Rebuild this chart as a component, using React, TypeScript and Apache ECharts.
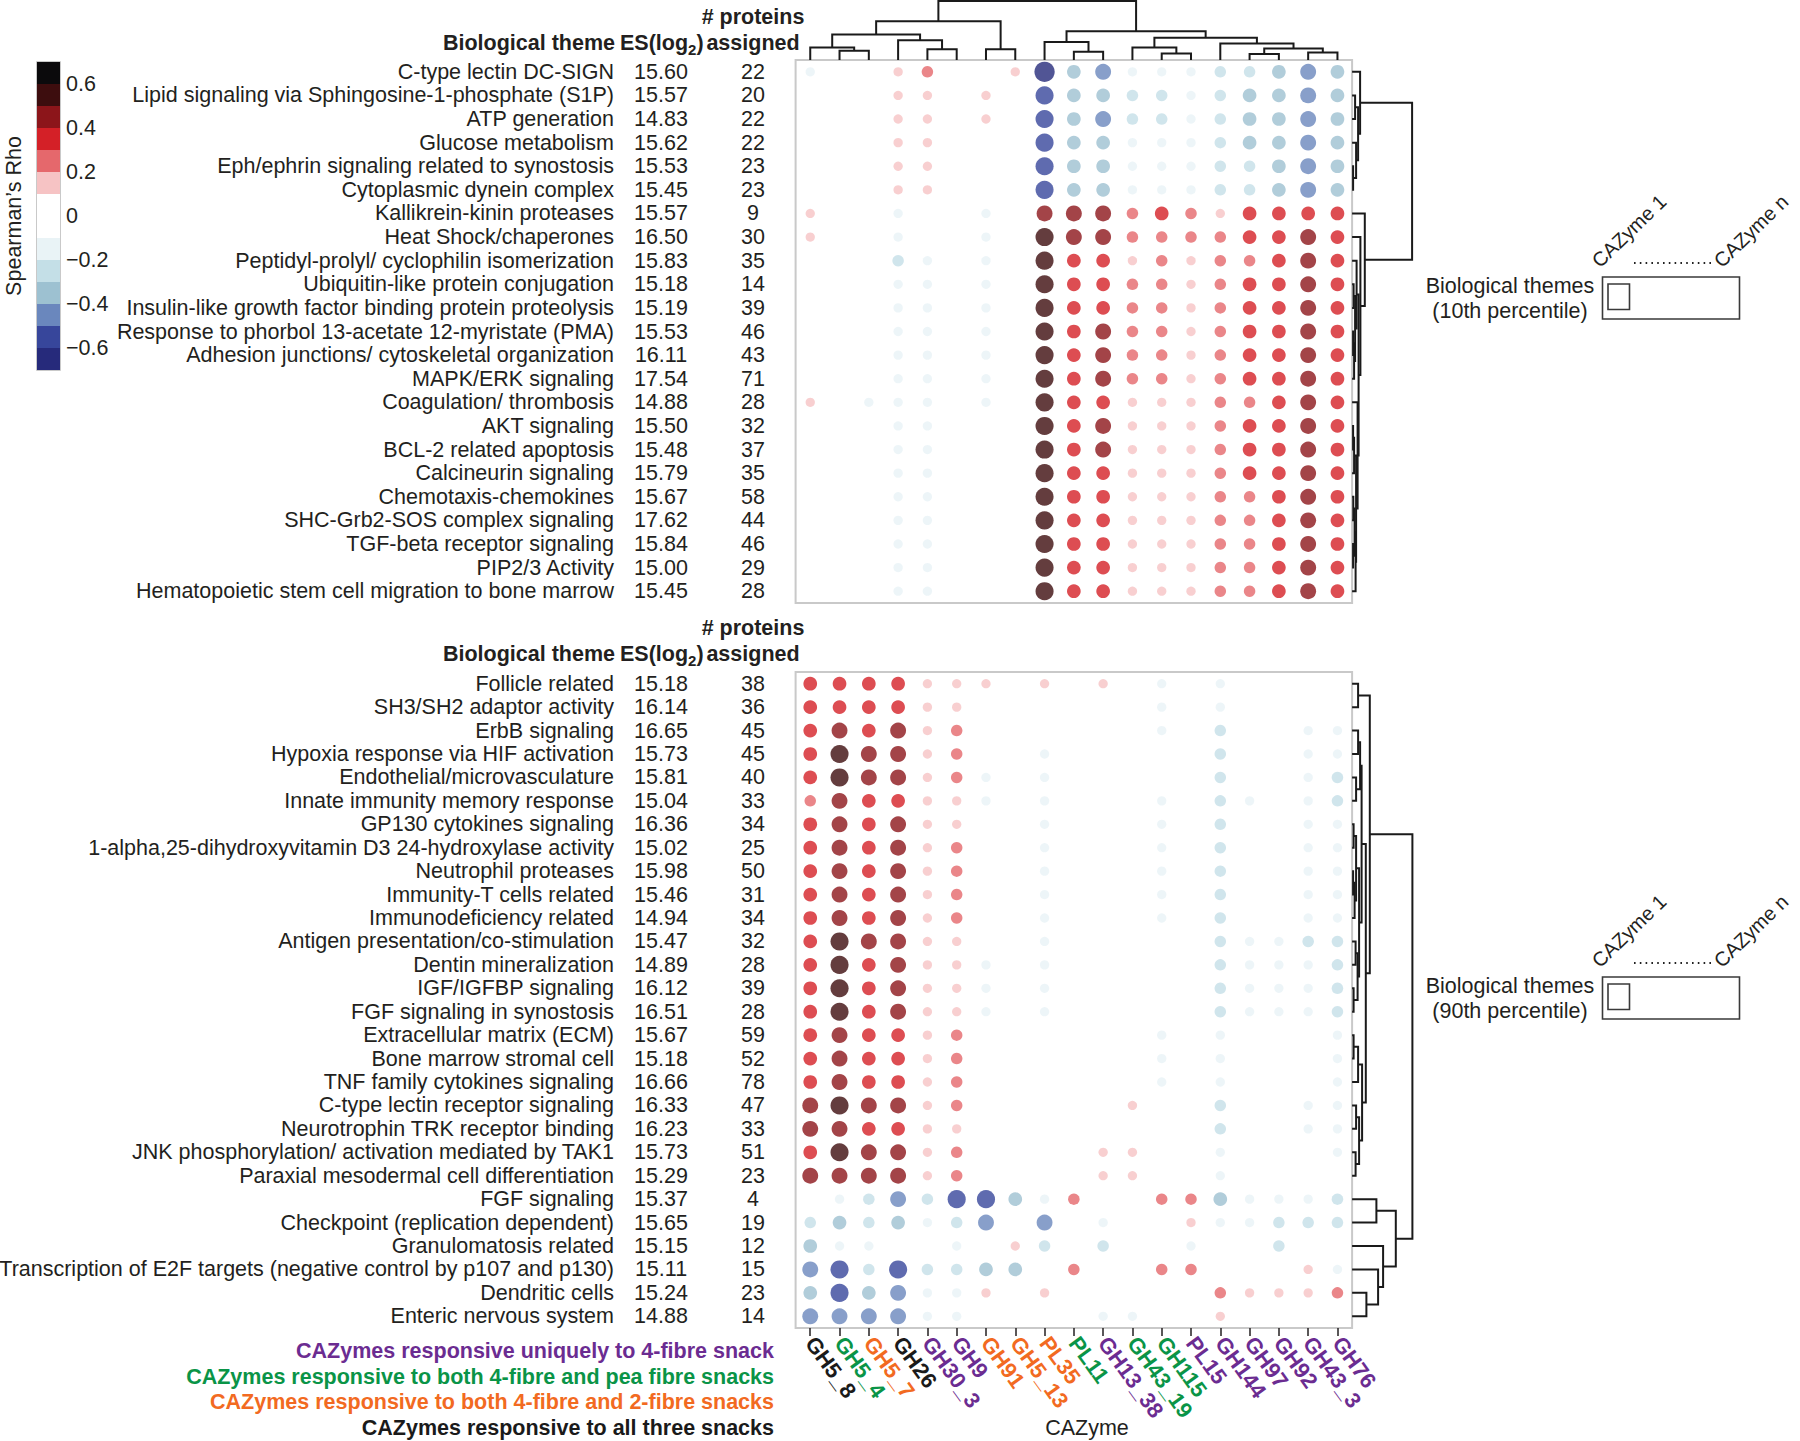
import React, { useEffect, useRef } from 'react';
import * as echarts from 'echarts';

// ---------------- data ----------------
const CAZYMES = ['GH5_8', 'GH5_4', 'GH5_7', 'GH26', 'GH30_3', 'GH9', 'GH91', 'GH5_13', 'PL35', 'PL11', 'GH13_38', 'GH43_19', 'GH115', 'PL15', 'GH144', 'GH97', 'GH92', 'GH43_3', 'GH76'];
const CAZYME_GROUP = ['all', 'pea', 'two', 'all', 'uniq', 'uniq', 'two', 'two', 'two', 'pea', 'uniq', 'pea', 'pea', 'uniq', 'uniq', 'uniq', 'uniq', 'uniq', 'uniq'];
const GROUP_COLORS: Record<string, string> = { uniq: '#6b2c91', pea: '#0a9447', two: '#f26a21', all: '#1a1a1a' };
const GROUP_LEGEND = [
  ['CAZymes responsive uniquely to 4-fibre snack', 'uniq'],
  ['CAZymes responsive to both 4-fibre and pea fibre snacks', 'pea'],
  ['CAZymes responsive to both 4-fibre and 2-fibre snacks', 'two'],
  ['CAZymes responsive to all three snacks', 'all'],
];

const TOP_THEMES = ['C-type lectin DC-SIGN', 'Lipid signaling via Sphingosine-1-phosphate (S1P)', 'ATP generation', 'Glucose metabolism', 'Eph/ephrin signaling related to synostosis', 'Cytoplasmic dynein complex', 'Kallikrein-kinin proteases', 'Heat Shock/chaperones', 'Peptidyl-prolyl/ cyclophilin isomerization', 'Ubiquitin-like protein conjugation', 'Insulin-like growth factor binding protein proteolysis', 'Response to phorbol 13-acetate 12-myristate (PMA)', 'Adhesion junctions/ cytoskeletal organization', 'MAPK/ERK signaling', 'Coagulation/ thrombosis', 'AKT signaling', 'BCL-2 related apoptosis', 'Calcineurin signaling', 'Chemotaxis-chemokines', 'SHC-Grb2-SOS complex signaling', 'TGF-beta receptor signaling', 'PIP2/3 Activity', 'Hematopoietic stem cell migration to bone marrow'];
const TOP_ES = ['15.60', '15.57', '14.83', '15.62', '15.53', '15.45', '15.57', '16.50', '15.83', '15.18', '15.19', '15.53', '16.11', '17.54', '14.88', '15.50', '15.48', '15.79', '15.67', '17.62', '15.84', '15.00', '15.45'];
const TOP_COUNT = ['22', '20', '22', '22', '23', '23', '9', '30', '35', '14', '39', '46', '43', '71', '28', '32', '37', '35', '58', '44', '46', '29', '28'];
const TOP_RHO = [
  [-0.15, 0, 0, 0.15, 0.25, 0, 0, 0.15, -0.65, -0.35, -0.45, -0.15, -0.15, -0.15, -0.25, -0.25, -0.35, -0.45, -0.35],
  [0, 0, 0, 0.15, 0.15, 0, 0.15, 0, -0.55, -0.35, -0.35, -0.25, -0.25, -0.15, -0.25, -0.35, -0.35, -0.45, -0.35],
  [0, 0, 0, 0.15, 0.15, 0, 0.15, 0, -0.55, -0.35, -0.45, -0.25, -0.25, -0.15, -0.25, -0.35, -0.35, -0.45, -0.35],
  [0, 0, 0, 0.15, 0.15, 0, 0, 0, -0.55, -0.35, -0.35, -0.15, -0.15, -0.15, -0.25, -0.35, -0.35, -0.45, -0.35],
  [0, 0, 0, 0.15, 0.15, 0, 0, 0, -0.55, -0.35, -0.35, -0.15, -0.15, -0.15, -0.25, -0.25, -0.35, -0.45, -0.35],
  [0, 0, 0, 0.15, 0.15, 0, 0, 0, -0.55, -0.35, -0.35, -0.15, -0.15, -0.15, -0.25, -0.25, -0.35, -0.45, -0.35],
  [0.15, 0, 0, -0.15, 0, 0, -0.15, 0, 0.45, 0.45, 0.45, 0.25, 0.35, 0.25, 0.15, 0.35, 0.35, 0.35, 0.35],
  [0.15, 0, 0, -0.15, 0, 0, -0.15, 0, 0.55, 0.45, 0.45, 0.25, 0.25, 0.25, 0.25, 0.35, 0.35, 0.45, 0.35],
  [0, 0, 0, -0.25, -0.15, 0, -0.15, 0, 0.55, 0.35, 0.35, 0.15, 0.25, 0.15, 0.25, 0.25, 0.35, 0.45, 0.35],
  [0, 0, 0, -0.15, -0.15, 0, -0.15, 0, 0.55, 0.35, 0.35, 0.25, 0.25, 0.15, 0.25, 0.35, 0.35, 0.45, 0.35],
  [0, 0, 0, -0.15, -0.15, 0, -0.15, 0, 0.55, 0.35, 0.35, 0.25, 0.25, 0.15, 0.25, 0.35, 0.35, 0.45, 0.35],
  [0, 0, 0, -0.15, -0.15, 0, -0.15, 0, 0.55, 0.35, 0.45, 0.25, 0.25, 0.15, 0.25, 0.35, 0.35, 0.45, 0.35],
  [0, 0, 0, -0.15, -0.15, 0, -0.15, 0, 0.55, 0.35, 0.45, 0.25, 0.25, 0.15, 0.25, 0.35, 0.35, 0.45, 0.35],
  [0, 0, 0, -0.15, -0.15, 0, -0.15, 0, 0.55, 0.35, 0.45, 0.25, 0.25, 0.15, 0.25, 0.35, 0.35, 0.45, 0.35],
  [0.15, 0, -0.15, -0.15, -0.15, 0, -0.15, 0, 0.55, 0.35, 0.35, 0.15, 0.15, 0.15, 0.25, 0.25, 0.35, 0.45, 0.35],
  [0, 0, 0, -0.15, -0.15, 0, 0, 0, 0.55, 0.35, 0.45, 0.15, 0.15, 0.15, 0.25, 0.35, 0.35, 0.45, 0.35],
  [0, 0, 0, -0.15, -0.15, 0, 0, 0, 0.55, 0.35, 0.45, 0.15, 0.15, 0.15, 0.25, 0.35, 0.35, 0.45, 0.35],
  [0, 0, 0, -0.15, -0.15, 0, 0, 0, 0.55, 0.35, 0.35, 0.15, 0.15, 0.15, 0.25, 0.35, 0.35, 0.45, 0.35],
  [0, 0, 0, -0.15, -0.15, 0, 0, 0, 0.55, 0.35, 0.35, 0.15, 0.15, 0.15, 0.25, 0.25, 0.35, 0.45, 0.35],
  [0, 0, 0, -0.15, -0.15, 0, 0, 0, 0.55, 0.35, 0.35, 0.15, 0.15, 0.15, 0.25, 0.25, 0.35, 0.45, 0.35],
  [0, 0, 0, -0.15, -0.15, 0, 0, 0, 0.55, 0.35, 0.35, 0.15, 0.15, 0.15, 0.25, 0.25, 0.35, 0.45, 0.35],
  [0, 0, 0, -0.15, -0.15, 0, 0, 0, 0.55, 0.35, 0.35, 0.15, 0.15, 0.15, 0.25, 0.25, 0.35, 0.45, 0.35],
  [0, 0, 0, -0.15, -0.15, 0, 0, 0, 0.55, 0.35, 0.35, 0.15, 0.15, 0.15, 0.25, 0.25, 0.35, 0.45, 0.35],
];

const BOT_THEMES = ['Follicle related', 'SH3/SH2 adaptor activity', 'ErbB signaling', 'Hypoxia response via HIF activation', 'Endothelial/microvasculature', 'Innate immunity memory response', 'GP130 cytokines signaling', '1-alpha,25-dihydroxyvitamin D3 24-hydroxylase activity', 'Neutrophil proteases', 'Immunity-T cells related', 'Immunodeficiency related', 'Antigen presentation/co-stimulation', 'Dentin mineralization', 'IGF/IGFBP signaling', 'FGF signaling in synostosis', 'Extracellular matrix (ECM)', 'Bone marrow stromal cell', 'TNF family cytokines signaling', 'C-type lectin receptor signaling', 'Neurotrophin TRK receptor binding', 'JNK phosphorylation/ activation mediated by TAK1', 'Paraxial mesodermal cell differentiation', 'FGF signaling', 'Checkpoint (replication dependent)', 'Granulomatosis related', 'Transcription of E2F targets (negative control by p107 and p130)', 'Dendritic cells', 'Enteric nervous system'];
const BOT_ES = ['15.18', '16.14', '16.65', '15.73', '15.81', '15.04', '16.36', '15.02', '15.98', '15.46', '14.94', '15.47', '14.89', '16.12', '16.51', '15.67', '15.18', '16.66', '16.33', '16.23', '15.73', '15.29', '15.37', '15.65', '15.15', '15.11', '15.24', '14.88'];
const BOT_COUNT = ['38', '36', '45', '45', '40', '33', '34', '25', '50', '31', '34', '32', '28', '39', '28', '59', '52', '78', '47', '33', '51', '23', '4', '19', '12', '15', '23', '14'];
const BOT_RHO = [
  [0.35, 0.35, 0.35, 0.35, 0.15, 0.15, 0.15, 0, 0.15, 0, 0.15, 0, -0.15, 0, -0.15, 0, 0, 0, 0],
  [0.35, 0.35, 0.35, 0.35, 0.15, 0.15, 0, 0, 0, 0, 0, 0, -0.15, 0, -0.15, 0, 0, 0, 0],
  [0.35, 0.45, 0.35, 0.45, 0.15, 0.25, 0, 0, 0, 0, 0, 0, -0.15, 0, -0.25, 0, 0, -0.15, -0.15],
  [0.35, 0.55, 0.45, 0.45, 0.15, 0.25, 0, 0, -0.15, 0, 0, 0, 0, 0, -0.25, 0, 0, -0.15, -0.15],
  [0.35, 0.55, 0.45, 0.45, 0.15, 0.25, -0.15, 0, -0.15, 0, 0, 0, 0, 0, -0.25, 0, 0, -0.15, -0.25],
  [0.25, 0.45, 0.35, 0.35, 0.15, 0.15, -0.15, 0, -0.15, 0, 0, 0, -0.15, 0, -0.25, -0.15, 0, -0.15, -0.25],
  [0.35, 0.45, 0.35, 0.45, 0.15, 0.15, 0, 0, -0.15, 0, 0, 0, -0.15, 0, -0.25, 0, 0, -0.15, -0.15],
  [0.35, 0.45, 0.35, 0.45, 0.15, 0.25, 0, 0, -0.15, 0, 0, 0, -0.15, 0, -0.25, 0, 0, -0.15, -0.15],
  [0.35, 0.45, 0.35, 0.45, 0.15, 0.25, 0, 0, -0.15, 0, 0, 0, -0.15, 0, -0.25, 0, 0, -0.15, -0.15],
  [0.35, 0.45, 0.35, 0.45, 0.15, 0.25, 0, 0, -0.15, 0, 0, 0, -0.15, 0, -0.25, 0, 0, -0.15, -0.15],
  [0.35, 0.45, 0.35, 0.45, 0.15, 0.25, 0, 0, -0.15, 0, 0, 0, -0.15, 0, -0.25, 0, 0, -0.15, -0.15],
  [0.35, 0.55, 0.45, 0.45, 0.15, 0.15, 0, 0, -0.15, 0, 0, 0, 0, 0, -0.25, -0.15, -0.15, -0.25, -0.25],
  [0.35, 0.55, 0.35, 0.45, 0.15, 0.15, -0.15, 0, -0.15, 0, 0, 0, 0, 0, -0.25, -0.15, -0.15, -0.15, -0.25],
  [0.35, 0.55, 0.35, 0.45, 0.15, 0.15, -0.15, 0, -0.15, 0, 0, 0, 0, 0, -0.25, -0.15, -0.15, -0.15, -0.25],
  [0.35, 0.55, 0.35, 0.45, 0.15, 0.15, -0.15, 0, -0.15, 0, 0, 0, 0, 0, -0.25, -0.15, -0.15, -0.15, -0.25],
  [0.35, 0.45, 0.35, 0.35, 0.15, 0.25, 0, 0, 0, 0, 0, 0, -0.15, 0, -0.15, 0, 0, 0, -0.15],
  [0.35, 0.45, 0.35, 0.35, 0.15, 0.25, 0, 0, 0, 0, 0, 0, -0.15, 0, -0.15, 0, 0, 0, -0.15],
  [0.35, 0.45, 0.35, 0.35, 0.15, 0.25, 0, 0, 0, 0, 0, 0, -0.15, 0, -0.15, 0, 0, 0, -0.15],
  [0.45, 0.55, 0.45, 0.45, 0.15, 0.25, 0, 0, 0, 0, 0, 0.15, 0, 0, -0.25, 0, 0, -0.15, -0.15],
  [0.45, 0.45, 0.35, 0.35, 0.15, 0.15, 0, 0, 0, 0, 0, 0, 0, 0, -0.25, 0, 0, -0.15, -0.15],
  [0.35, 0.55, 0.45, 0.45, 0.15, 0.25, 0, 0, 0, 0, 0.15, 0.15, 0, 0, -0.15, 0, 0, 0, -0.15],
  [0.45, 0.45, 0.45, 0.45, 0.15, 0.25, 0, 0, 0, 0, 0.15, 0.15, 0, 0, -0.15, 0, 0, 0, 0],
  [0, -0.15, -0.25, -0.45, -0.25, -0.55, -0.55, -0.35, -0.15, 0.25, 0, 0, 0.25, 0.25, -0.35, -0.15, -0.15, -0.15, -0.25],
  [-0.25, -0.35, -0.25, -0.35, -0.15, -0.25, -0.45, 0, -0.45, 0, -0.15, 0, 0, 0.15, -0.15, -0.15, -0.25, -0.25, -0.25],
  [-0.35, -0.15, -0.15, 0, 0, -0.15, 0, 0.15, -0.25, 0, -0.25, 0, 0, -0.15, 0, 0, -0.25, 0, 0],
  [-0.45, -0.55, -0.25, -0.55, -0.25, -0.25, -0.35, -0.35, 0, 0.25, 0, 0, 0.25, 0.25, 0, 0, 0, 0.15, -0.15],
  [-0.35, -0.55, -0.35, -0.45, -0.15, -0.15, 0.15, 0, 0.15, 0, 0, 0, 0, 0, 0.25, 0.15, 0.15, 0.15, 0.25],
  [-0.45, -0.45, -0.45, -0.45, -0.15, -0.15, 0, 0, 0, 0, -0.15, -0.15, 0, 0, 0.15, 0, 0, 0, 0],
];

// colour scale (Spearman's rho bins)
const RHO_BREAKS = [-0.7, -0.6, -0.5, -0.4, -0.3, -0.2, -0.1, 0.1, 0.2, 0.3, 0.4, 0.5, 0.6, 0.7];
const BIN_COLORS = ['#262a7b', '#37469b', '#6a87bd', '#9dc1d1', '#c4dfe7', '#e9f3f6', '#ffffff', '#f6c3c4', '#e5686c', '#d42027', '#8c151a', '#3d0d0e', '#0b0a0c'];
const COLORBAR_TICKS = [-0.6, -0.4, -0.2, 0, 0.2, 0.4, 0.6];

// dendrograms: [childA, childB, height]; leaves are 0..n-1, merge k gets id n+k
const COL_MERGES: [number, number, number][] = [
  [1, 2, 28], [0, 19, 38], [4, 5, 33], [3, 21, 60], [20, 22, 78], [6, 7, 33], [23, 24, 118],
  [9, 10, 25], [8, 26, 55], [12, 13, 20], [11, 28, 38], [15, 16, 18], [17, 18, 23], [30, 31, 35],
  [14, 32, 50], [29, 33, 68], [27, 34, 88], [25, 35, 180],
];
const TOP_ROW_MERGES: [number, number, number][] = [
  [4, 5, 1], [3, 23, 4], [1, 2, 3], [25, 24, 6], [0, 26, 8],
  [9, 10, 1.5], [11, 12, 1], [13, 29, 2], [28, 30, 3], [8, 31, 4.5],
  [15, 16, 1], [17, 33, 2], [18, 19, 1.2], [20, 21, 1], [35, 36, 2.5], [22, 37, 3.5], [34, 38, 4],
  [14, 39, 5.5], [32, 40, 6.5], [7, 41, 8.3], [6, 42, 12.7], [27, 43, 60],
];
const BOT_ROW_MERGES: [number, number, number][] = [
  [0, 1, 6],
  [2, 3, 6], [4, 5, 4], [29, 30, 8], [6, 7, 1.5], [8, 9, 1], [10, 33, 2.5], [32, 34, 4],
  [11, 12, 3.5], [13, 14, 1.5], [36, 37, 5.5], [35, 38, 7], [31, 39, 9.5],
  [15, 16, 1.5], [17, 41, 6], [18, 19, 4], [20, 21, 3.5], [43, 44, 7], [42, 45, 10],
  [40, 46, 13.7], [28, 47, 17.7],
  [26, 27, 14.3], [25, 49, 26], [24, 50, 31], [22, 23, 24.3], [52, 51, 43.7],
  [48, 53, 60.3],
];

// ---------------- helpers ----------------
const FONT = 'Liberation Sans, Arial, Helvetica, sans-serif';
const INK = '#231f20';
const FS = 21.5;

function colorFor(r: number): string {
  for (let i = 0; i < BIN_COLORS.length; i++) {
    if (r >= RHO_BREAKS[i] && r < RHO_BREAKS[i + 1]) return BIN_COLORS[i];
  }
  return r < 0 ? BIN_COLORS[0] : BIN_COLORS[BIN_COLORS.length - 1];
}

function dotData(rho: number[][]) {
  const out: any[] = [];
  rho.forEach((row, r) =>
    row.forEach((v, c) => {
      if (Math.abs(v) >= 0.1) out.push({ value: [c, r, v], itemStyle: { color: colorFor(v) } });
    })
  );
  return out;
}

function dendro(n: number, merges: [number, number, number][], horizontal: boolean) {
  const pos: number[] = [];
  const ht: number[] = [];
  for (let i = 0; i < n; i++) { pos[i] = i; ht[i] = 0; }
  const segs: any[] = [];
  merges.forEach(([a, b, h], k) => {
    const id = n + k;
    pos[id] = (pos[a] + pos[b]) / 2;
    ht[id] = h;
    const pts = [[pos[a], ht[a]], [pos[a], h], [pos[b], h], [pos[b], ht[b]]];
    segs.push({ coords: horizontal ? pts.map(([p, hh]) => [hh, p]) : pts });
  });
  return segs;
}

const G_LEFT = 795.6;
const G_W = 556.5;
const TOP_Y = 60;
const TOP_H = 543;
const BOT_Y = 672;
const BOT_H = 656;

function rowAxes(gridIndex: number, names: string[], es: string[], counts: string[]) {
  const base = {
    type: 'category', gridIndex, inverse: true, data: names, position: 'left', offset: 0,
    axisLine: { show: false }, axisTick: { show: false }, splitLine: { show: false },
  };
  const lbl = { interval: 0, fontSize: FS, color: INK, fontFamily: FONT };
  return [
    { ...base, axisLabel: { ...lbl, margin: G_LEFT - 614 } },
    { ...base, axisLabel: { ...lbl, margin: G_LEFT - 661, align: 'center', formatter: (_v: string, i: number) => es[i] } },
    { ...base, axisLabel: { ...lbl, margin: G_LEFT - 753, align: 'center', formatter: (_v: string, i: number) => counts[i] } },
  ];
}

function headerTexts(y2: number) {
  const bold = { fontSize: FS, fontWeight: 'bold', fontFamily: FONT, fill: INK };
  return [
    { type: 'text', x: 753, y: y2 - 25.5, style: { ...bold, text: '# proteins', align: 'center', verticalAlign: 'middle' } },
    { type: 'text', x: 753, y: y2, style: { ...bold, text: 'assigned', align: 'center', verticalAlign: 'middle' } },
    { type: 'text', x: 615, y: y2, style: { ...bold, text: 'Biological theme', align: 'right', verticalAlign: 'middle' } },
    {
      type: 'text', x: 620, y: y2,
      style: {
        text: '{b|ES(log}{s|2}{b|)}', align: 'left', verticalAlign: 'middle', fill: INK,
        rich: {
          b: { fontSize: FS, fontWeight: 'bold', fontFamily: FONT, fill: INK, lineHeight: 28, verticalAlign: 'middle' },
          s: { fontSize: 15, fontWeight: 'bold', fontFamily: FONT, fill: INK, lineHeight: 15, verticalAlign: 'bottom' },
        },
      },
    },
  ];
}

function schemaLegend(top: number, label: string) {
  const t = { fontSize: FS, fontFamily: FONT, fill: INK };
  const rot = (44 * Math.PI) / 180;
  return [
    { type: 'text', x: 1510, y: top + 9, style: { ...t, text: 'Biological themes', align: 'center', verticalAlign: 'middle' } },
    { type: 'text', x: 1510, y: top + 34, style: { ...t, text: label, align: 'center', verticalAlign: 'middle' } },
    { type: 'rect', shape: { x: 1602.5, y: top, width: 137, height: 42 }, style: { fill: 'none', stroke: '#3a3a3a', lineWidth: 1.6 } },
    { type: 'rect', shape: { x: 1608, y: top + 7, width: 21.5, height: 25.5 }, style: { fill: 'none', stroke: '#3a3a3a', lineWidth: 1.6 } },
    { type: 'line', shape: { x1: 1634, y1: top - 14, x2: 1714, y2: top - 14 }, style: { stroke: '#222', lineWidth: 2, lineDash: [1.6, 4.2] } },
    { type: 'text', x: 1602, y: top - 6, rotation: rot, style: { ...t, fontSize: 20, text: 'CAZyme 1', align: 'left', verticalAlign: 'bottom' } },
    { type: 'text', x: 1724, y: top - 6, rotation: rot, style: { ...t, fontSize: 20, text: 'CAZyme n', align: 'left', verticalAlign: 'bottom' } },
  ];
}

function buildOption() {
  const symbolSize = (v: number[]) => 6 + 22 * Math.abs(v[2]);
  const dendroLine = { color: '#1a1a1a', width: 2, opacity: 1 };
  const hiddenVal = (gridIndex: number, min: number, max: number, extra: any = {}) => ({
    type: 'value', gridIndex, min, max, show: false, ...extra,
  });
  const boxGrid = { show: true, borderColor: '#c9c9c9', borderWidth: 2, backgroundColor: 'transparent', outerBoundsMode: 'none' };

  const fmtTick = (v: number) => (Math.abs(v) < 1e-9 ? '0' : v < 0 ? '\u2212' + Math.abs(v).toFixed(1) : v.toFixed(1));

  return {
    animation: false,
    backgroundColor: '#ffffff',
    textStyle: { fontFamily: FONT, color: INK },
    grid: [
      { left: G_LEFT, top: TOP_Y, width: G_W, height: TOP_H, ...boxGrid },
      { left: G_LEFT, top: BOT_Y, width: G_W, height: BOT_H, ...boxGrid },
      { left: G_LEFT, top: 1, width: G_W, height: TOP_Y - 1, outerBoundsMode: 'none' },
      { left: G_LEFT + G_W, top: TOP_Y, width: 60, height: TOP_H, outerBoundsMode: 'none' },
      { left: G_LEFT + G_W, top: BOT_Y, width: 60.3, height: BOT_H, outerBoundsMode: 'none' },
      { left: 37, top: 62, width: 23, height: 308, show: true, borderColor: '#b8b8b8', borderWidth: 1.5, outerBoundsMode: 'none' },
    ],
    xAxis: [
      { type: 'category', gridIndex: 0, data: CAZYMES, show: false, position: 'bottom' },
      {
        type: 'category', gridIndex: 1, position: 'bottom',
        data: CAZYMES.map((c, i) => ({ value: c, textStyle: { color: GROUP_COLORS[CAZYME_GROUP[i]] } })),
        axisLine: { show: false },
        axisTick: { show: true, alignWithLabel: true, length: 8, lineStyle: { color: INK, width: 1.5 } },
        axisLabel: { interval: 0, rotate: -54, margin: 11, fontSize: 22, fontWeight: 'bold', fontFamily: FONT },
        splitLine: { show: false },
      },
      hiddenVal(2, -0.5, CAZYMES.length - 0.5),
      hiddenVal(3, 0, 60),
      hiddenVal(4, 0, 60.3),
      hiddenVal(5, 0, 1),
    ],
    yAxis: [
      ...rowAxes(0, TOP_THEMES, TOP_ES, TOP_COUNT),
      ...rowAxes(1, BOT_THEMES, BOT_ES, BOT_COUNT),
      hiddenVal(2, 0, 180),
      hiddenVal(3, -0.5, TOP_THEMES.length - 0.5, { inverse: true }),
      hiddenVal(4, -0.5, BOT_THEMES.length - 0.5, { inverse: true }),
      {
        type: 'value', gridIndex: 5, min: -0.7, max: 0.7, position: 'right',
        axisLine: { show: false }, axisTick: { show: false }, splitLine: { show: false },
        axisLabel: { customValues: COLORBAR_TICKS, formatter: fmtTick, fontSize: FS, margin: 6, color: INK, fontFamily: FONT },
      },
    ],
    series: [
      { type: 'scatter', xAxisIndex: 0, yAxisIndex: 0, symbol: 'circle', symbolSize, data: dotData(TOP_RHO), silent: true },
      { type: 'scatter', xAxisIndex: 1, yAxisIndex: 3, symbol: 'circle', symbolSize, data: dotData(BOT_RHO), silent: true },
      { type: 'lines', coordinateSystem: 'cartesian2d', xAxisIndex: 2, yAxisIndex: 6, polyline: true, clip: false, silent: true, lineStyle: dendroLine, data: dendro(CAZYMES.length, COL_MERGES, false) },
      { type: 'lines', coordinateSystem: 'cartesian2d', xAxisIndex: 3, yAxisIndex: 7, polyline: true, clip: false, silent: true, lineStyle: dendroLine, data: dendro(TOP_THEMES.length, TOP_ROW_MERGES, true) },
      { type: 'lines', coordinateSystem: 'cartesian2d', xAxisIndex: 4, yAxisIndex: 8, polyline: true, clip: false, silent: true, lineStyle: dendroLine, data: dendro(BOT_THEMES.length, BOT_ROW_MERGES, true) },
      {
        type: 'custom', xAxisIndex: 5, yAxisIndex: 9, silent: true, clip: false,
        data: BIN_COLORS.map((_c, i) => [RHO_BREAKS[i], RHO_BREAKS[i + 1]]),
        renderItem: (params: any, api: any) => {
          const p0 = api.coord([0, api.value(0)]);
          const p1 = api.coord([1, api.value(1)]);
          return {
            type: 'rect',
            shape: { x: p0[0], y: p1[1], width: p1[0] - p0[0], height: p0[1] - p1[1] },
            style: { fill: BIN_COLORS[params.dataIndex], stroke: null },
          };
        },
      },
    ],
    graphic: [
      ...headerTexts(42.5),
      ...headerTexts(653.5),
      {
        type: 'text', x: 14, y: 216, rotation: Math.PI / 2,
        style: { text: 'Spearman\u2019s Rho', fontSize: FS, fontFamily: FONT, fill: INK, align: 'center', verticalAlign: 'middle' },
      },
      ...GROUP_LEGEND.map(([txt, g], i) => ({
        type: 'text', x: 774, y: 1351 + i * 25.7,
        style: { text: txt, fontSize: FS, fontWeight: 'bold', fontFamily: FONT, fill: GROUP_COLORS[g], align: 'right', verticalAlign: 'middle' },
      })),
      {
        type: 'text', x: 1087, y: 1428,
        style: { text: 'CAZyme', fontSize: FS, fontFamily: FONT, fill: INK, align: 'center', verticalAlign: 'middle' },
      },
      ...schemaLegend(277, '(10th percentile)'),
      ...schemaLegend(977, '(90th percentile)'),
    ],
  };
}

export default function App() {
  const ref = useRef<HTMLDivElement>(null);
  useEffect(() => {
    document.body.style.margin = '0';
    const chart = echarts.init(ref.current as HTMLDivElement, null, { renderer: 'svg' });
    chart.setOption(buildOption() as any);
    return () => chart.dispose();
  }, []);
  return <div ref={ref} style={{ width: 1800, height: 1441 }} />;
}
